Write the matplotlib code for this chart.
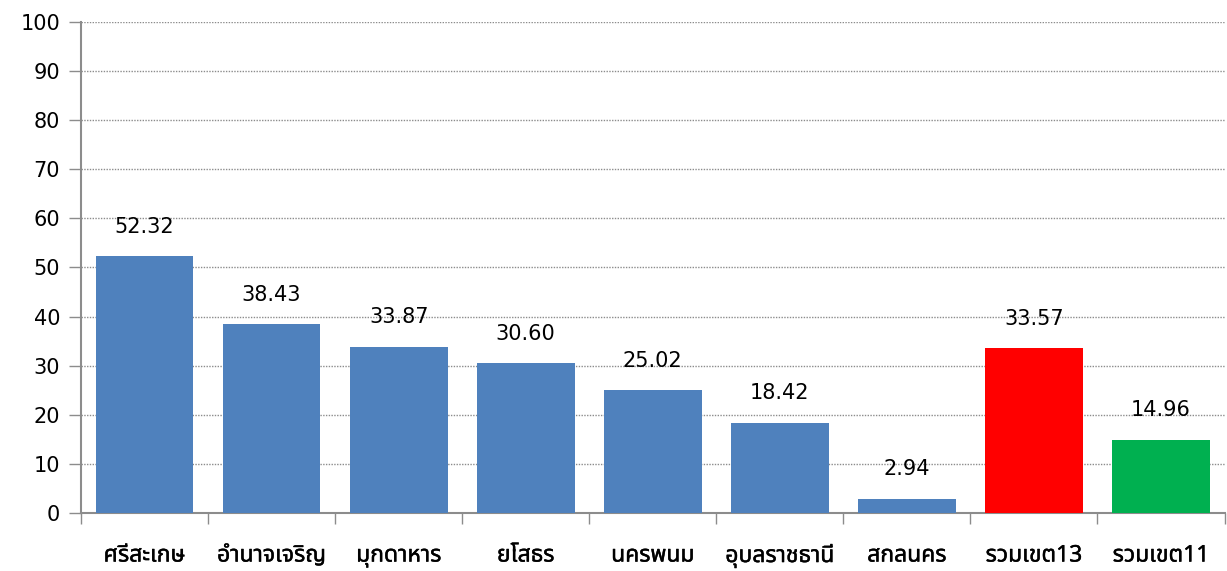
import matplotlib
matplotlib.use("Agg")
import matplotlib.pyplot as plt
from matplotlib import font_manager
from matplotlib.ft2font import FT2Font
from matplotlib.ticker import FixedLocator, MultipleLocator
import matplotlib.patheffects as pe

categories = ["ศรีสะเกษ", "อำนาจเจริญ", "มุกดาหาร", "ยโสธร", "นครพนม",
              "อุบลราชธานี", "สกลนคร", "รวมเขต13", "รวมเขต11"]
values = [52.32, 38.43, 33.87, 30.60, 25.02, 18.42, 2.94, 33.57, 14.96]
labels = ["52.32", "38.43", "33.87", "30.60", "25.02", "18.42", "2.94", "33.57", "14.96"]
colors = ["#4F81BD"] * 7 + ["#FF0000", "#00B050"]

# find a font that covers Thai
thai_font = None
preferred = ["Tahoma", "Noto Sans Thai", "Loma", "Garuda", "Kinnari", "Norasi", "Sarabun"]
cands = {}
for f in font_manager.fontManager.ttflist:
    try:
        cm = FT2Font(f.fname).get_charmap()
        if 0x0E28 in cm and 0x0E01 in cm:
            cands.setdefault(f.name, set()).add(f.weight)
    except Exception:
        pass
for p in preferred:
    if p in cands:
        thai_font = p
        break
if thai_font is None and cands:
    thai_font = sorted(cands)[0]

plt.rcParams["font.family"] = ["DejaVu Sans"]
thai_fam = ([thai_font] if thai_font else []) + ["DejaVu Sans"]

fig = plt.figure(figsize=(12.27, 5.71), dpi=100)
ax = fig.add_axes([0.066, 0.1016, 0.932, 0.86])

x = list(range(len(categories)))
ax.bar(x, values, width=0.77, color=colors, zorder=3)
for xi, v, lab in zip(x, values, labels):
    ax.annotate(lab, (xi, v), xytext=(0, 21), textcoords="offset points",
                ha="center", va="center", fontsize=15, color="black")

ax.set_xlim(-0.5, len(categories) - 0.5)
ax.set_ylim(0, 100)
ax.yaxis.set_major_locator(MultipleLocator(10))
ax.grid(axis="y", linestyle=(0, (1, 1)), color="#8c8c8c", linewidth=1, zorder=0)

ax.set_xticks(x)
ax.set_xticklabels(categories)
for t in ax.get_xticklabels():
    t.set_family(thai_fam)
    t.set_fontsize(16.5)
    t.set_fontweight("normal")
    t.set_path_effects([pe.withStroke(linewidth=0.3, foreground="black")])
ax.tick_params(axis="x", which="major", length=0, pad=22)
ax.xaxis.set_minor_locator(FixedLocator([i - 0.5 for i in range(len(categories) + 1)]))
ax.tick_params(axis="x", which="minor", length=8, width=1, color="#8c8c8c", direction="out")
ax.tick_params(axis="y", length=9, width=1, color="#8c8c8c", labelsize=15, pad=6)

for s in ["top", "right"]:
    ax.spines[s].set_visible(False)
for s in ["left", "bottom"]:
    ax.spines[s].set_color("#8c8c8c")
    ax.spines[s].set_linewidth(1.5)

fig.savefig("out.png", dpi=100)
